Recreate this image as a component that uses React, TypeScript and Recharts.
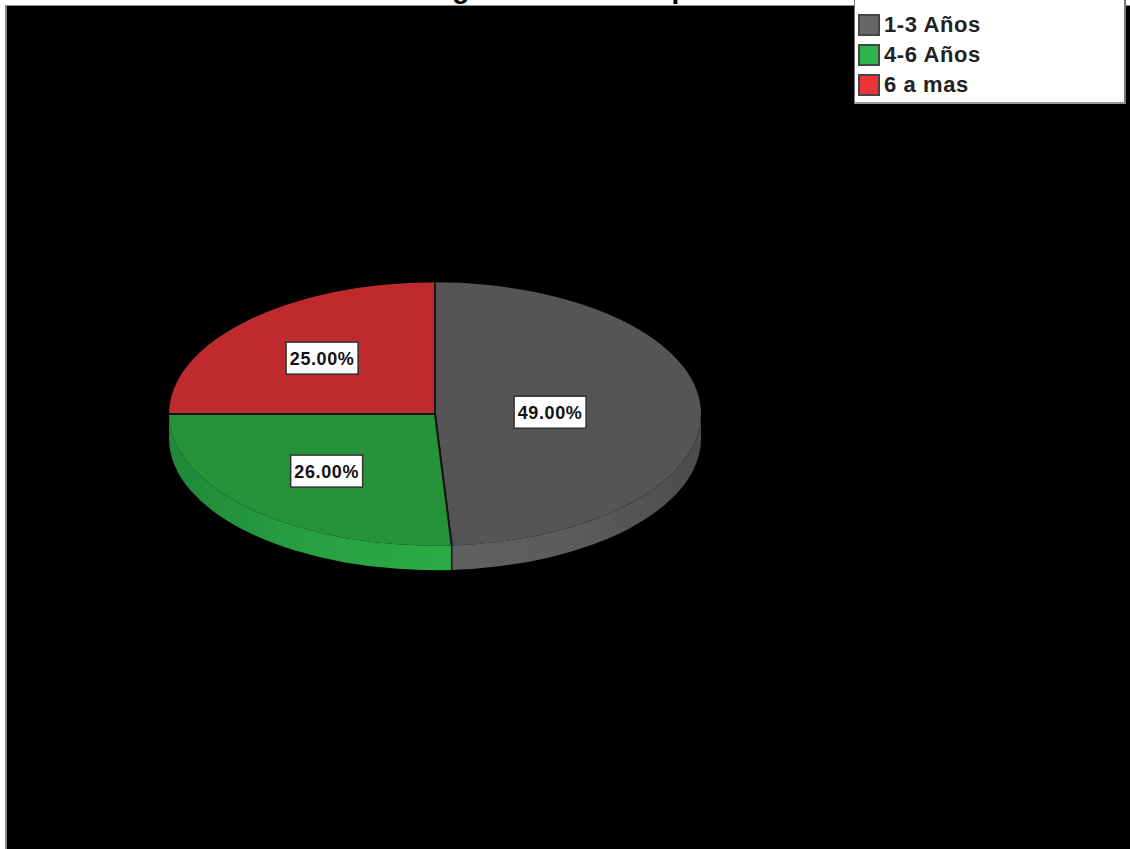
import { Legend, Pie, PieChart } from "recharts"

const categories = ["1-3 Años", "4-6 Años", "6 a mas"]
const shares = [49, 26, 25]
const legendColors = ["#666666", "#2fb34c", "#ee3338"]
const topColors = ["#555555", "#26933b", "#bf2a2e"]
// side wall shading, left to right
const wallColors = [
  ["#606060", "#5c5c5c", "#4c4c4c"],
  ["#21873a", "#28a042", "#2aab45"],
  ["#a82529", "#a82529", "#a82529"],
]

const chartData = categories.map((name, i) => ({
  name,
  value: shares[i],
  fill: legendColors[i],
  top: topColors[i],
  wall: wallColors[i],
  wallId: `wall-${i}`,
}))

const WIDTH = 1130
const HEIGHT = 849
const CX = 435
const CY = 414
const RX = 266
const SQUASH = 0.495
const DEPTH = 24.5

const RAD = Math.PI / 180

// recharts angles are counter-clockwise from 3 o'clock, the disc is squashed on y
function rim(angle: number, cx: number, cy: number, rx: number) {
  return {
    x: cx + rx * Math.cos(angle * RAD),
    y: cy - rx * SQUASH * Math.sin(angle * RAD),
  }
}

function arcPath(a: number, b: number, cx: number, cy: number, rx: number, clockwise: boolean) {
  const end = rim(b, cx, cy, rx)
  const large = Math.abs(a - b) > 180 ? 1 : 0
  return `A ${rx} ${rx * SQUASH} 0 ${large} ${clockwise ? 1 : 0} ${end.x} ${end.y}`
}

function TopSlice(props: any) {
  const { cx, cy, outerRadius, startAngle, endAngle, payload } = props
  const start = rim(startAngle, cx, cy, outerRadius)
  const end = rim(endAngle, cx, cy, outerRadius)
  const d = `M ${cx} ${cy} L ${start.x} ${start.y} ${arcPath(startAngle, endAngle, cx, cy, outerRadius, true)} Z`
  return (
    <g>
      <path d={d} fill={payload.top} />
      {/* only the radial edges get a dark line, the rim stays clean */}
      <path
        d={`M ${start.x} ${start.y} L ${cx} ${cy} L ${end.x} ${end.y}`}
        fill="none"
        stroke="#151515"
        strokeWidth={2}
      />
    </g>
  )
}

// side wall, only the part of the rim facing the viewer (below the horizontal axis)
function WallSlice(props: any) {
  const { cx, cy, outerRadius, startAngle, endAngle, payload } = props
  const a = Math.min(startAngle, 0)
  const b = Math.max(endAngle, -180)
  if (a <= b) return <g />
  const p = rim(a, cx, cy, outerRadius)
  const q = rim(b, cx, cy, outerRadius)
  const d = [
    `M ${p.x} ${p.y}`,
    arcPath(a, b, cx, cy, outerRadius, true),
    `L ${q.x} ${q.y + DEPTH}`,
    arcPath(b, a, cx, cy + DEPTH, outerRadius, false),
    "Z",
  ].join(" ")
  return (
    <g>
      <defs>
        <linearGradient id={payload.wallId} gradientUnits="userSpaceOnUse" x1={q.x} x2={p.x} y1={0} y2={0}>
          {payload.wall.map((color: string, i: number) => (
            <stop key={i} offset={i / (payload.wall.length - 1)} stopColor={color} />
          ))}
        </linearGradient>
      </defs>
      <path d={d} fill={`url(#${payload.wallId})`} />
      {/* seam between two slices on the wall */}
      {a < 0 && a > -180 && (
        <line x1={p.x} y1={p.y} x2={p.x} y2={p.y + DEPTH} stroke="#151515" strokeWidth={1.5} />
      )}
    </g>
  )
}

// value box sits on the centroid of the slice
function ValueLabel(props: any) {
  const { cx, cy, outerRadius, startAngle, endAngle, value } = props
  const half = (Math.abs(startAngle - endAngle) / 2) * RAD
  const dist = (2 / 3) * outerRadius * (Math.sin(half) / half)
  const pos = rim((startAngle + endAngle) / 2, cx, cy, dist)
  return (
    <g>
      <rect x={pos.x - 36} y={pos.y - 16} width={72} height={32} fill="#ffffff" stroke="#333333" strokeWidth={1.5} />
      <text
        x={pos.x}
        y={pos.y + 6.5}
        textAnchor="middle"
        fontFamily="Liberation Sans"
        fontWeight="bold"
        fontSize={18}
        letterSpacing={0.6}
        fill="#111111"
      >
        {value.toFixed(2)}%
      </text>
    </g>
  )
}

function LegendBox({ payload }: any) {
  // both Pie layers report their items, keep one row per category
  const rows = categories.map((name) => payload.find((entry: any) => entry.value === name)).filter(Boolean)
  return (
    <div
      style={{
        width: 272,
        height: 104,
        background: "#ffffff",
        borderRight: "2px solid #777777",
        borderBottom: "2px solid #999999",
        borderLeft: "1px solid #777777",
        boxSizing: "border-box",
        paddingTop: 10,
        paddingLeft: 3,
      }}
    >
      {rows.map((entry: any) => (
        <div key={entry.value} style={{ display: "flex", alignItems: "center", height: 30 }}>
          <span
            style={{
              width: 22,
              height: 22,
              boxSizing: "border-box",
              background: entry.color,
              border: "2px solid #444444",
              marginRight: 4,
            }}
          />
          <span
            style={{
              fontFamily: "Liberation Sans",
              fontWeight: "bold",
              fontSize: 22,
              color: "#222222",
              letterSpacing: 0.6,
            }}
          >
            {entry.value}
          </span>
        </div>
      ))}
    </div>
  )
}

export default function App() {
  return (
    <div style={{ position: "absolute", left: 0, top: 0, width: WIDTH, height: HEIGHT, background: "#ffffff", overflow: "hidden" }}>
      <div style={{ position: "absolute", left: 5, top: 5, right: 0, bottom: 0, background: "#000000", borderLeft: "2px solid #8a8a8a", borderTop: "1px solid #8a8a8a", boxSizing: "border-box" }} />
      <div style={{ position: "absolute", left: 0, top: 0, width: WIDTH, height: 5, overflow: "hidden" }}>
        <div
          style={{
            position: "absolute",
            left: 7,
            width: WIDTH,
            top: -26,
            textAlign: "center",
            fontFamily: "Liberation Sans",
            fontWeight: "bold",
            fontSize: 28,
            lineHeight: "30px",
            color: "#000000",
          }}
        >
          Antigüedad en la empresa
        </div>
      </div>
      <PieChart
        width={WIDTH}
        height={HEIGHT}
        margin={{ top: 0, right: 0, bottom: 0, left: 0 }}
        style={{ position: "absolute", left: 0, top: 0 }}
      >
        <Pie
          data={chartData}
          dataKey="value"
          nameKey="name"
          cx={CX}
          cy={CY}
          outerRadius={RX}
          startAngle={90}
          endAngle={-270}
          shape={WallSlice}
          legendType="none"
          isAnimationActive={false}
        />
        <Pie
          data={chartData}
          dataKey="value"
          nameKey="name"
          cx={CX}
          cy={CY}
          outerRadius={RX}
          startAngle={90}
          endAngle={-270}
          shape={TopSlice}
          label={ValueLabel}
          labelLine={false}
          isAnimationActive={false}
        />
        <Legend
          content={LegendBox}
          wrapperStyle={{ position: "absolute", left: 854, top: 0, width: 272 }}
        />
      </PieChart>
    </div>
  )
}
